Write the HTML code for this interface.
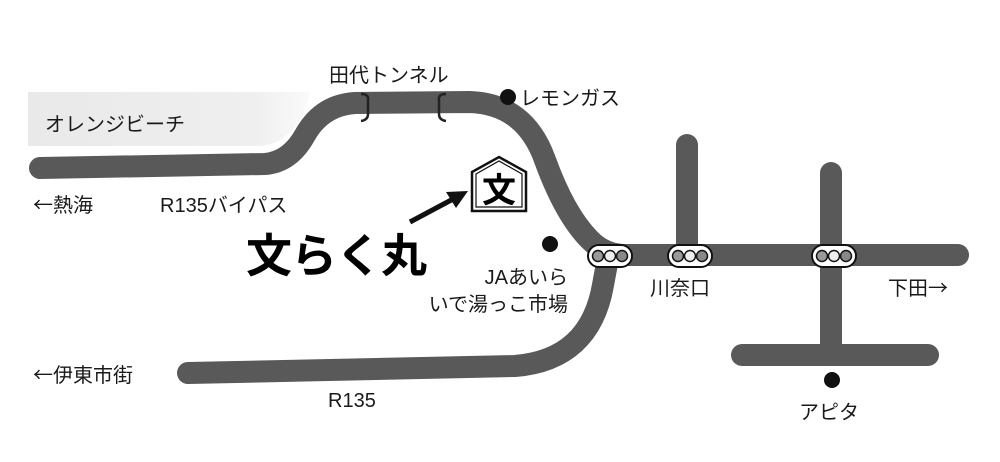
<!DOCTYPE html>
<html><head><meta charset="utf-8"><style>
html,body{margin:0;padding:0;background:#fff;}
svg{display:block;}
text{font-family:"Liberation Sans","Noto Sans CJK JP",sans-serif;fill:#1a1a1a;}
.ar{font-family:"Noto Sans CJK JP",sans-serif;}
</style></head><body>
<svg width="1000" height="462" viewBox="0 0 1000 462" xmlns="http://www.w3.org/2000/svg">
<defs>
<linearGradient id="bg" x1="0" y1="0" x2="1" y2="0">
<stop offset="0" stop-color="#e9e9e9"/><stop offset="0.8" stop-color="#efefef"/><stop offset="1" stop-color="#fafafa"/>
</linearGradient>
</defs>
<path d="M28 92 L310 92 Q300 140 262 146 L28 146 Z" fill="url(#bg)"/>
<g fill="none" stroke="#595959" stroke-width="22" stroke-linecap="round">
<path d="M40 168 L265 164 Q290 162 305 135 Q322 105 355 103 L470 102 Q525 104 545 160 Q565 215 590 240 Q605 255 625 255 L958 255"/>
<path d="M188 373 L515 366 Q590 360 603 285 L608 258"/>
<path d="M687 145 L687 255"/>
<path d="M831 173 L831 355"/>
<path d="M742 355 L928 355"/>
</g>
<g fill="none" stroke="#222" stroke-width="2.5">
<path d="M361 94 Q369 94 368 100 L368 114 Q368 120 361 121"/>
<path d="M446 94 Q438 94 439 100 L439 114 Q439 120 446 121"/>
</g>
<g>
<g transform="translate(610,256)">
<rect x="-22" y="-11" width="44" height="22" rx="11" fill="#fff" stroke="#111" stroke-width="2"/>
<circle cx="-12" cy="0" r="5.5" fill="#999" stroke="#111" stroke-width="1.5"/><circle cx="0" cy="0" r="5.5" fill="#eee" stroke="#111" stroke-width="1.5"/><circle cx="12" cy="0" r="5.5" fill="#888" stroke="#111" stroke-width="1.5"/>
</g>
<g transform="translate(690,256)">
<rect x="-22" y="-11" width="44" height="22" rx="11" fill="#fff" stroke="#111" stroke-width="2"/>
<circle cx="-12" cy="0" r="5.5" fill="#999" stroke="#111" stroke-width="1.5"/><circle cx="0" cy="0" r="5.5" fill="#eee" stroke="#111" stroke-width="1.5"/><circle cx="12" cy="0" r="5.5" fill="#888" stroke="#111" stroke-width="1.5"/>
</g>
<g transform="translate(834,256)">
<rect x="-22" y="-11" width="44" height="22" rx="11" fill="#fff" stroke="#111" stroke-width="2"/>
<circle cx="-12" cy="0" r="5.5" fill="#999" stroke="#111" stroke-width="1.5"/><circle cx="0" cy="0" r="5.5" fill="#eee" stroke="#111" stroke-width="1.5"/><circle cx="12" cy="0" r="5.5" fill="#888" stroke="#111" stroke-width="1.5"/>
</g>
</g>
<circle cx="508" cy="97" r="8" fill="#111"/>
<circle cx="550" cy="244" r="8" fill="#111"/>
<circle cx="832" cy="380" r="8" fill="#111"/>
<path d="M472 211 L472 172 L499 157 L526 172 L526 211 Z" fill="#fff" stroke="#111" stroke-width="2.5"/>
<path d="M476 207 L476 174 L499 161 L522 174 L522 207 Z" fill="none" stroke="#111" stroke-width="1.2"/>
<text x="499" y="202" font-size="34" font-weight="bold" text-anchor="middle" style="fill:#000">文</text>
<line x1="410" y1="222" x2="455" y2="198" stroke="#111" stroke-width="5"/>
<path d="M468 191 L446 192 L456 208 Z" fill="#111"/>
<text x="45" y="131" font-size="20">オレンジビーチ</text>
<text x="329" y="82" font-size="20">田代トンネル</text>
<text x="520" y="105" font-size="20">レモンガス</text>
<text x="33" y="212" font-size="20"><tspan class="ar">←</tspan>熱海</text>
<text x="160" y="212" font-size="20">R135バイパス</text>
<text x="246" y="272" font-size="46" font-weight="bold" style="fill:#000" letter-spacing="-1">文らく丸</text>
<text x="568" y="284" font-size="20" text-anchor="end">JAあいら</text>
<text x="568" y="311" font-size="20" text-anchor="end">いで湯っこ市場</text>
<text x="33" y="382" font-size="20"><tspan class="ar">←</tspan>伊東市街</text>
<text x="328" y="407" font-size="20">R135</text>
<text x="650" y="295" font-size="20">川奈口</text>
<text x="888" y="295" font-size="20">下田<tspan class="ar">→</tspan></text>
<text x="799" y="419" font-size="20">アピタ</text>
</svg>
</body></html>
